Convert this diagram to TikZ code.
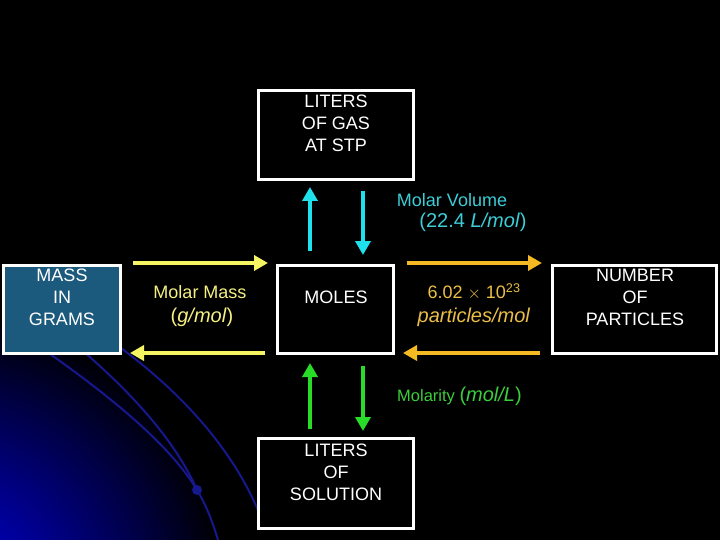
\documentclass[tikz,border=0pt]{standalone}
\usepackage{fontspec}
\setmainfont{Liberation Sans}
\usetikzlibrary{arrows.meta}
\definecolor{teal1}{RGB}{27,89,125}
\definecolor{yel}{RGB}{245,245,100}
\definecolor{yeltxt}{RGB}{245,240,130}
\definecolor{org}{RGB}{245,185,35}
\definecolor{orgtxt}{RGB}{235,190,70}
\definecolor{cyn}{RGB}{30,225,235}
\definecolor{cyntxt}{RGB}{60,205,215}
\definecolor{grn}{RGB}{40,220,40}
\definecolor{grntxt}{RGB}{60,205,60}
\definecolor{deepblue}{RGB}{0,0,215}
\definecolor{arcblue}{RGB}{22,24,140}
\tikzset{
  box/.style={draw=white, line width=3pt, inner sep=0pt},
  boxtxt/.style={text=white, align=center, inner sep=0pt, font=\fontsize{18}{22}\selectfont},
  lbl/.style={inner sep=0pt, font=\fontsize{18}{22}\selectfont},
  lblbig/.style={inner sep=0pt, font=\fontsize{20}{24}\selectfont},
  conn/.style={line width=4pt, -{Triangle[width=15pt,length=14pt]}},
  arcline/.style={arcblue, line width=2pt},
}
\begin{document}
\begin{tikzpicture}[x=1pt,y=-1pt]
\fill[black] (0,0) rectangle (720,540);
\useasboundingbox (0,0) rectangle (720,540);
% background decoration
\begin{scope}
  \clip (0,0) rectangle (720,540);
  \foreach \r in {290,286,...,2} {
    \pgfmathsetmacro\p{100*(1-(\r/290)^1.2)}
    \fill[deepblue!\p!black] (-60,600) circle[radius=\r pt];
  }
  \draw[arcline] (30,340) .. controls (110,395) and (170,445) .. (197,490) .. controls (206,505) and (212,520) .. (218,540);
  \draw[arcline] (70,340) .. controls (130,390) and (175,440) .. (197,490);
  \draw[arcline] (110,340) .. controls (180,390) and (235,450) .. (262,520);
  \fill[arcblue] (197,490) circle [radius=5pt];
\end{scope}
% boxes
\node[box, minimum width=155pt, minimum height=89pt] (gas) at (336,135) {};
\node[box, fill=teal1, minimum width=117pt, minimum height=88pt] (mass) at (62,309.5) {};
\node[box, fill=black, minimum width=116pt, minimum height=88pt] (moles) at (335.5,309.5) {};
\node[box, fill=black, minimum width=164pt, minimum height=88pt] (num) at (634.5,309.5) {};
\node[box, fill=black, minimum width=155pt, minimum height=90pt] (sol) at (336,483.5) {};
% box texts
\node[boxtxt] (gastxt) at (336,123) {LITERS\\OF GAS\\AT STP};
\node[boxtxt] (masstxt) at (62,297) {MASS\\IN\\GRAMS};
\node[boxtxt] (molestxt) at (336,297) {MOLES};
\node[boxtxt] (numtxt) at (635,297) {NUMBER\\OF\\PARTICLES};
\node[boxtxt] (soltxt) at (336,472) {LITERS\\OF\\SOLUTION};
% arrow end points
\coordinate (y1a) at (133,263); \coordinate (y1b) at (268,263);
\coordinate (y2a) at (265,353); \coordinate (y2b) at (130,353);
\coordinate (o1a) at (407,263); \coordinate (o1b) at (542,263);
\coordinate (o2a) at (540,353); \coordinate (o2b) at (403,353);
\coordinate (c1a) at (310,251); \coordinate (c1b) at (310,187);
\coordinate (c2a) at (363,191); \coordinate (c2b) at (363,255);
\coordinate (g1a) at (310,429); \coordinate (g1b) at (310,363);
\coordinate (g2a) at (363,366); \coordinate (g2b) at (363,431);
% arrows
\draw[conn, yel] (y1a) -- (y1b);
\draw[conn, yel] (y2a) -- (y2b);
\draw[conn, org] (o1a) -- (o1b);
\draw[conn, org] (o2a) -- (o2b);
\draw[conn, cyn] (c1a) -- (c1b);
\draw[conn, cyn] (c2a) -- (c2b);
\draw[conn, grn] (g1a) -- (g1b);
\draw[conn, grn] (g2a) -- (g2b);
% labels
\node[lbl, text=yeltxt] (mm1) at (200,292) {Molar Mass};
\node[lblbig, text=yeltxt] (mm2) at (202,317) {(\textit{g/mol})};
\node[lbl, text=cyntxt] (mv1) at (452,200) {Molar Volume};
\node[lblbig, text=cyntxt] (mv2) at (473,222) {(22.4 \textit{L/mol})};
\node[lbl, text=orgtxt] (av1) at (474,292) {6.02 $\times$ 10\textsuperscript{23}};
\node[lblbig, text=orgtxt] (av2) at (474,317) {\textit{particles/mol}};
\node[lbl, text=grntxt, anchor=base west] (mo1) at (397,401) {\fontsize{16.5}{20}\selectfont Molarity \fontsize{20}{24}\selectfont(\textit{mol/L})};
\end{tikzpicture}
\end{document}
